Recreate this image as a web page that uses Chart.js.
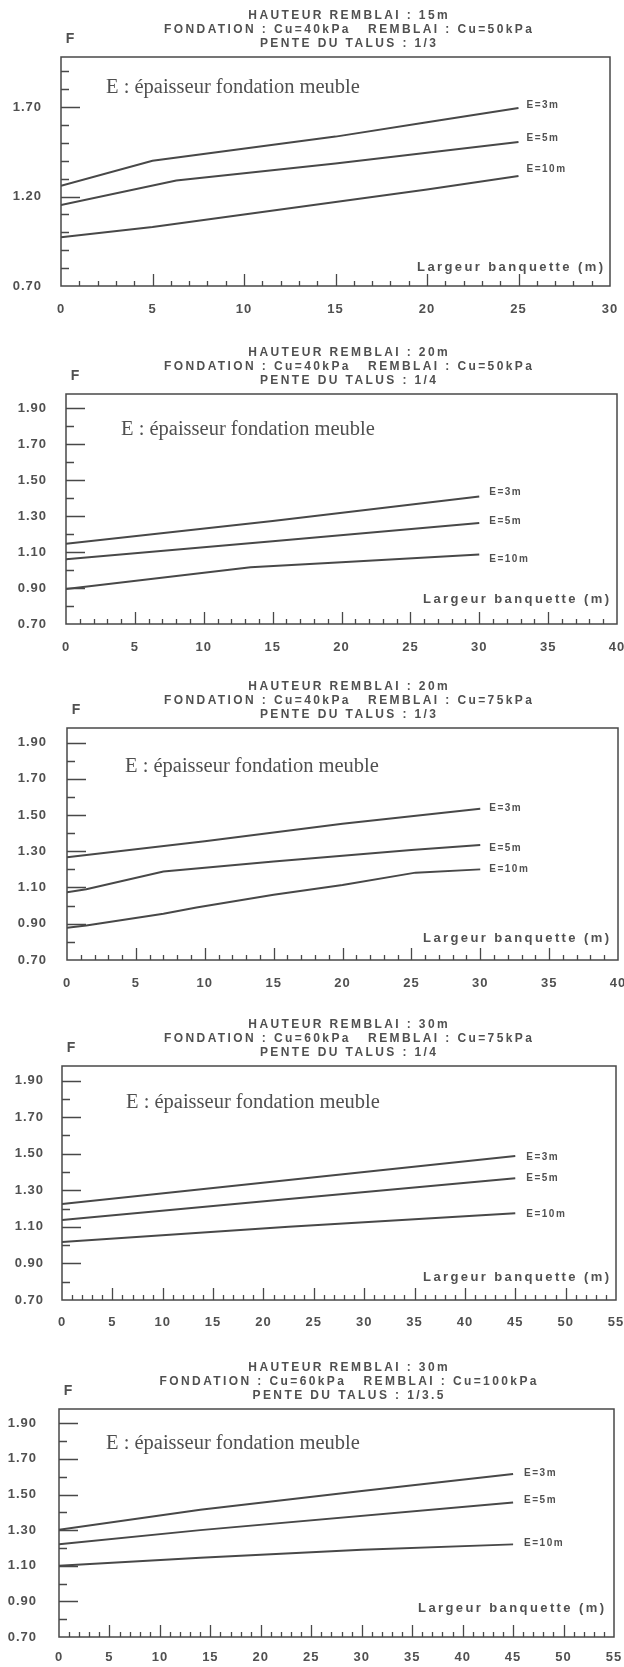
<!DOCTYPE html>
<html lang="fr">
<head>
<meta charset="utf-8">
<title>Coefficient de sécurité F en fonction de la largeur de banquette</title>
<script src="https://cdn.jsdelivr.net/npm/chart.js@4.4.1/dist/chart.umd.min.js"></script>
<style>
  html, body { margin: 0; padding: 0; background: #ffffff; }
  body { width: 624px; height: 1667px; position: relative; overflow: hidden; }
  .panel { position: absolute; left: 0; width: 624px; }
</style>
</head>
<body>
<div class="panel" style="top:0px;height:330px"><canvas id="c1"></canvas></div>
<div class="panel" style="top:330px;height:335px"><canvas id="c2"></canvas></div>
<div class="panel" style="top:665px;height:335px"><canvas id="c3"></canvas></div>
<div class="panel" style="top:1000px;height:340px"><canvas id="c4"></canvas></div>
<div class="panel" style="top:1340px;height:327px"><canvas id="c5"></canvas></div>
<script>
// ---- Données : [largeur de banquette (m), coefficient F] pour chaque épaisseur E ----
const seriesNames = ['E=3m', 'E=5m', 'E=10m'];
const noteText = 'E : épaisseur fondation meuble';
const xAxisText = 'Largeur banquette (m)';
const yAxisText = 'F';

const yTicksCoarse = [0.70, 1.20, 1.70];
const yTicksFine = [0.70, 0.90, 1.10, 1.30, 1.50, 1.70, 1.90];
const xTicks30 = [0, 5, 10, 15, 20, 25, 30];
const xTicks40 = [0, 5, 10, 15, 20, 25, 30, 35, 40];
const xTicks55 = [0, 5, 10, 15, 20, 25, 30, 35, 40, 45, 50, 55];

// Remblai 15 m, fondation Cu = 40 kPa, remblai Cu = 50 kPa, pente 1/3
const p1Title = ['HAUTEUR REMBLAI : 15m', 'FONDATION : Cu=40kPa   REMBLAI : Cu=50kPa', 'PENTE DU TALUS : 1/3'];
const p1E3 = [[0, 1.26], [5, 1.40], [15, 1.535], [20, 1.615], [25, 1.695]];
const p1E5 = [[0, 1.152], [6.3, 1.29], [15, 1.385], [25, 1.505]];
const p1E10 = [[0, 0.972], [5, 1.03], [10, 1.10], [15, 1.17], [20, 1.24], [25, 1.315]];

// Remblai 20 m, fondation Cu = 40 kPa, remblai Cu = 50 kPa, pente 1/4
const p2Title = ['HAUTEUR REMBLAI : 20m', 'FONDATION : Cu=40kPa   REMBLAI : Cu=50kPa', 'PENTE DU TALUS : 1/4'];
const p2E3 = [[0, 1.146], [15, 1.273], [30, 1.41]];
const p2E5 = [[0, 1.06], [15, 1.16], [30, 1.262]];
const p2E10 = [[0, 0.895], [13.4, 1.016], [20, 1.044], [30, 1.087]];

// Remblai 20 m, fondation Cu = 40 kPa, remblai Cu = 75 kPa, pente 1/3
const p3Title = ['HAUTEUR REMBLAI : 20m', 'FONDATION : Cu=40kPa   REMBLAI : Cu=75kPa', 'PENTE DU TALUS : 1/3'];
const p3E3 = [[0, 1.267], [10, 1.355], [20, 1.452], [30, 1.534]];
const p3E5 = [[0, 1.074], [1.4, 1.09], [7, 1.188], [15, 1.243], [25, 1.307], [30, 1.335]];
const p3E10 = [[0, 0.878], [1.4, 0.89], [7, 0.955], [9.4, 0.99], [15, 1.06], [20, 1.114], [25.3, 1.182], [30, 1.20]];

// Remblai 30 m, fondation Cu = 60 kPa, remblai Cu = 75 kPa, pente 1/4
const p4Title = ['HAUTEUR REMBLAI : 30m', 'FONDATION : Cu=60kPa   REMBLAI : Cu=75kPa', 'PENTE DU TALUS : 1/4'];
const p4E3 = [[0, 1.225], [22.5, 1.357], [45, 1.488]];
const p4E5 = [[0, 1.138], [22.5, 1.252], [45, 1.366]];
const p4E10 = [[0, 1.017], [22.5, 1.101], [45, 1.175]];

// Remblai 30 m, fondation Cu = 60 kPa, remblai Cu = 100 kPa, pente 1/3.5
const p5Title = ['HAUTEUR REMBLAI : 30m', 'FONDATION : Cu=60kPa   REMBLAI : Cu=100kPa', 'PENTE DU TALUS : 1/3.5'];
const p5E3 = [[0, 1.302], [14, 1.415], [30, 1.52], [45, 1.615]];
const p5E5 = [[0, 1.22], [14, 1.30], [45, 1.455]];
const p5E10 = [[0, 1.10], [14, 1.145], [30, 1.19], [45, 1.22]];

// ---- Mise en page ----
const INK = '#484848';
const TEXT = '#505050';
const SANS = '"Liberation Sans", Arial, sans-serif';
const SERIF = '"Liberation Serif", "Times New Roman", serif';
const TITLE_CENTER = 348;
const Y_MIN = 0.70, Y_MAX = 1.98;

const panels = [
  { id: 'c1', title: p1Title, series: [p1E3, p1E5, p1E10], yTicks: yTicksCoarse, xTicks: xTicks30,
    box: { top: 0, height: 330, left: 61, right: 610, areaTop: 57, areaBottom: 286 },
    note: [45, 31], axisTitle: [-7, -19], labelDx: 8, labelDy: [-3, -4, -7], yPad: 19, xPad: 16 },
  { id: 'c2', title: p2Title, series: [p2E3, p2E5, p2E10], yTicks: yTicksFine, xTicks: xTicks40,
    box: { top: 330, height: 335, left: 66, right: 617, areaTop: 394, areaBottom: 624 },
    note: [55, 36], axisTitle: [-8, -25], labelDx: 10, labelDy: [-4, -2, 5], yPad: 19, xPad: 16 },
  { id: 'c3', title: p3Title, series: [p3E3, p3E5, p3E10], yTicks: yTicksFine, xTicks: xTicks40,
    box: { top: 665, height: 335, left: 67, right: 618, areaTop: 728, areaBottom: 960 },
    note: [58, 39], axisTitle: [-9, -22], labelDx: 9, labelDy: [-1, 3, 0], yPad: 20, xPad: 16 },
  { id: 'c4', title: p4Title, series: [p4E3, p4E5, p4E10], yTicks: yTicksFine, xTicks: xTicks55,
    box: { top: 1000, height: 340, left: 62, right: 616, areaTop: 1066, areaBottom: 1300 },
    note: [64, 37], axisTitle: [-7, -23], labelDx: 11, labelDy: [1, 0, 1], yPad: 18, xPad: 15 },
  { id: 'c5', title: p5Title, series: [p5E3, p5E5, p5E10], yTicks: yTicksFine, xTicks: xTicks55,
    box: { top: 1340, height: 327, left: 59, right: 614, areaTop: 1409, areaBottom: 1637 },
    note: [47, 35], axisTitle: [-10, -29], labelDx: 11, labelDy: [-1, -2, -1], yPad: 22, xPad: 13 }
];

// Texte espacé (police de traceur), centré ou aligné malgré l'espacement final
function spacedText(ctx, text, x, y, font, spacing, align) {
  ctx.font = font;
  ctx.letterSpacing = spacing + 'px';
  ctx.textAlign = align;
  let shift = 0;
  if (align === 'center') shift = spacing / 2;
  if (align === 'right') shift = spacing;
  ctx.fillText(text, x + shift, y);
}

// Cadre, graduations internes et annotations de la planche
function makePlanche(p) {
  return {
    id: 'planche',
    beforeDraw(chart) {
      chart.ctx.letterSpacing = '1px';
    },
    afterDraw(chart) {
      const { ctx, chartArea: a, scales: { x, y } } = chart;
      const xMax = p.xTicks[p.xTicks.length - 1];
      ctx.save();
      ctx.strokeStyle = INK;
      ctx.lineWidth = 1.5;
      ctx.strokeRect(a.left, a.top, a.right - a.left, a.bottom - a.top);

      // graduations de F, vers l'intérieur, tous les 0.1
      ctx.lineWidth = 1.3;
      ctx.beginPath();
      for (let k = 8; k / 10 < Y_MAX; k++) {
        const v = k / 10;
        const py = Math.round(y.getPixelForValue(v)) + 0.5;
        const major = p.yTicks.some(t => Math.abs(t - v) < 1e-6);
        const len = major ? 19 : 8;
        ctx.moveTo(a.left, py);
        ctx.lineTo(a.left + len, py);
      }
      // graduations de largeur, tous les mètres
      for (let v = 1; v < xMax; v++) {
        const px = Math.round(x.getPixelForValue(v)) + 0.5;
        const len = v % 5 === 0 ? 12 : 5;
        ctx.moveTo(px, a.bottom);
        ctx.lineTo(px, a.bottom - len);
      }
      ctx.stroke();

      ctx.fillStyle = TEXT;
      ctx.textBaseline = 'middle';

      // titre en trois lignes
      const rows = [-41, -27, -13];
      p.title.forEach((t, i) => spacedText(ctx, t, TITLE_CENTER, a.top + rows[i], 'bold 12px ' + SANS, 2.4, 'center'));

      // nom de l'axe vertical
      spacedText(ctx, yAxisText, a.left + 9, a.top - 18, 'bold 14px ' + SANS, 0, 'center');

      // légende des courbes
      spacedText(ctx, noteText, a.left + p.note[0], a.top + p.note[1], '20.5px ' + SERIF, 0, 'left');

      // nom de l'axe horizontal, dans le cadre
      spacedText(ctx, xAxisText, a.right + p.axisTitle[0], a.bottom + p.axisTitle[1], 'bold 13px ' + SANS, 2.4, 'right');

      // étiquette au bout de chaque courbe
      chart.data.datasets.forEach((ds, i) => {
        const last = ds.data[ds.data.length - 1];
        const px = x.getPixelForValue(last.x) + p.labelDx;
        const py = y.getPixelForValue(last.y) + p.labelDy[i];
        spacedText(ctx, ds.label, px, py, 'bold 10px ' + SANS, 1.5, 'left');
      });
      ctx.restore();
    }
  };
}

function buildChart(p) {
  const b = p.box;
  const xMax = p.xTicks[p.xTicks.length - 1];
  const datasets = p.series.map((s, i) => ({
    label: seriesNames[i],
    data: s.map(([bx, f]) => ({ x: bx, y: f })),
    borderColor: INK,
    borderWidth: 2,
    pointRadius: 0,
    tension: 0,
    fill: false
  }));
  return new Chart(document.getElementById(p.id), {
    type: 'line',
    data: { datasets },
    options: {
      responsive: true,
      maintainAspectRatio: false,
      animation: false,
      devicePixelRatio: 1,
      layout: { padding: { top: b.areaTop - b.top, right: 624 - b.right, left: 0, bottom: 0 } },
      plugins: { legend: { display: false }, tooltip: { enabled: false }, title: { display: false } },
      scales: {
        x: {
          type: 'linear', min: 0, max: xMax,
          grid: { display: false, drawTicks: false }, border: { display: false },
          afterBuildTicks: s => { s.ticks = p.xTicks.map(v => ({ value: v })); },
          afterFit: s => {
            s.height = b.top + b.height - b.areaBottom;
            s.paddingLeft = 0;
            s.paddingRight = 0;
          },
          ticks: { padding: p.xPad, autoSkip: false, maxRotation: 0, color: TEXT,
                   font: { family: SANS, size: 13, weight: 'bold' } }
        },
        y: {
          type: 'linear', min: Y_MIN, max: Y_MAX,
          grid: { display: false, drawTicks: false }, border: { display: false },
          afterBuildTicks: s => { s.ticks = p.yTicks.map(v => ({ value: v })); },
          afterFit: s => {
            s.width = b.left;
            s.paddingTop = 0;
            s.paddingBottom = 0;
          },
          ticks: { padding: p.yPad, autoSkip: false, color: TEXT,
                   callback: v => Number(v).toFixed(2),
                   font: { family: SANS, size: 13, weight: 'bold' } }
        }
      }
    },
    plugins: [makePlanche(p)]
  });
}

panels.forEach(buildChart);
</script>
</body>
</html>
